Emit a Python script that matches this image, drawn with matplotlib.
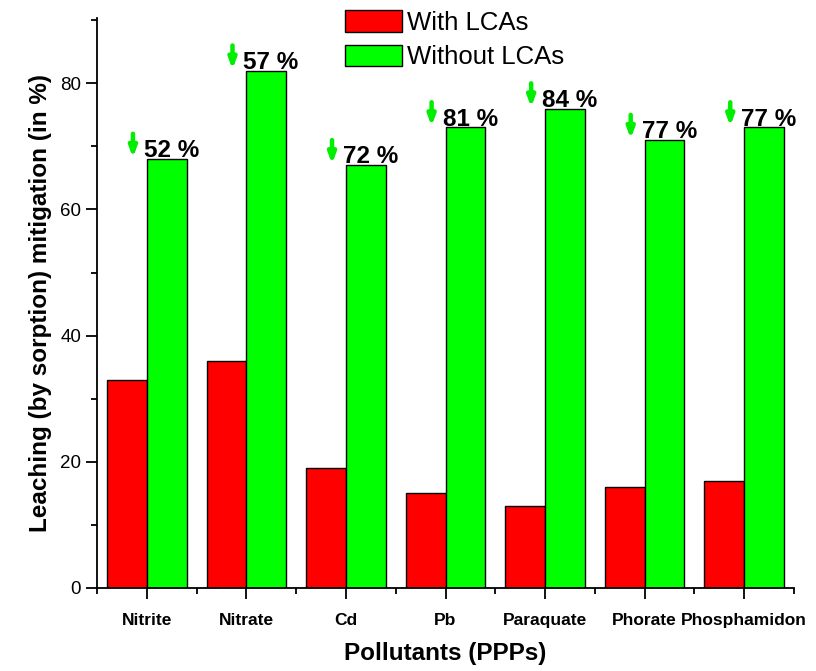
import matplotlib
matplotlib.use("Agg")
import matplotlib.pyplot as plt
import numpy as np
from matplotlib.ticker import MultipleLocator

plt.rcParams['font.family'] = ['Liberation Sans', 'DejaVu Sans']

categories = ["Nitrite", "Nitrate", "Cd", "Pb", "Paraquate", "Phorate", "Phosphamidon"]
with_lcas = [33, 36, 19, 15, 13, 16, 17]
without_lcas = [68, 82, 67, 73, 76, 71, 73]
reductions = ["52 %", "57 %", "72 %", "81 %", "84 %", "77 %", "77 %"]

fig = plt.figure(figsize=(8.16, 6.71), dpi=100)
ax = fig.add_axes([0.119, 0.1237, 0.854, 0.849])

x = np.arange(len(categories))
w = 0.4
ax.bar(x - w/2, with_lcas, w, color='#ff0000', edgecolor='black', linewidth=1, label='With LCAs')
ax.bar(x + w/2, without_lcas, w, color='#00ff00', edgecolor='black', linewidth=1, label='Without LCAs')

for xi, v, lab in zip(x, without_lcas, reductions):
    ax.text(xi - 0.03, v + 0.3, lab, ha='left', va='baseline', fontsize=17.5, fontweight='bold')
    ax.annotate('', xy=(xi - 0.14, v + 0.2), xytext=(xi - 0.14, v + 4.0),
                arrowprops=dict(arrowstyle='-|>,head_width=0.22,head_length=0.6',
                                color='#00ee00', lw=3.2, shrinkA=0, shrinkB=0))

ax.set_xlim(-0.5, 6.5)
ax.set_ylim(0, 90.3)
ax.set_xticks(x)
ax.set_xticklabels(categories, fontsize=12.5, fontweight='bold')
ax.xaxis.set_minor_locator(MultipleLocator(1, offset=0.5))
ax.yaxis.set_major_locator(MultipleLocator(20))
ax.yaxis.set_minor_locator(MultipleLocator(10))
ax.tick_params(axis='y', labelsize=13.5)
ax.tick_params(which='major', direction='out', length=8, width=1.3)
ax.tick_params(which='minor', direction='out', length=4, width=1.3)
ax.tick_params(axis='x', pad=10)
for s in ['top', 'right']:
    ax.spines[s].set_visible(False)
for s in ['left', 'bottom']:
    ax.spines[s].set_linewidth(1.3)

ax.set_ylabel('Leaching (by sorption) mitigation (in %)', fontsize=17.5, fontweight='bold', labelpad=6)
ax.set_xlabel('Pollutants (PPPs)', fontsize=17.5, fontweight='bold', labelpad=10)

ax.legend(loc='upper left', bbox_to_anchor=(0.356, 1.014), frameon=False, fontsize=18.5,
          handlelength=2.2, handleheight=0.9, handletextpad=0.2, labelspacing=0.38,
          borderaxespad=0, borderpad=0)

fig.savefig('out.png', dpi=100)
